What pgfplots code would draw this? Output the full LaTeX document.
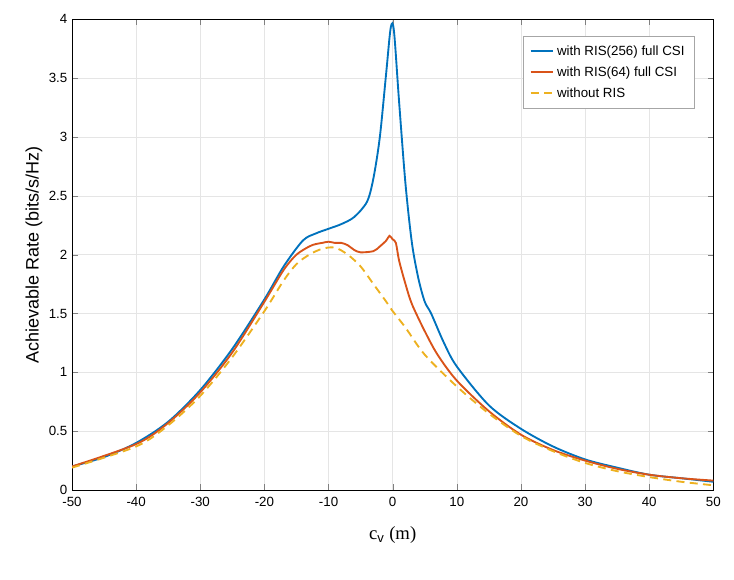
\documentclass[border=0pt]{standalone}
\usepackage{fontspec}
\setmainfont{Liberation Sans}
\newfontfamily\serif{Liberation Serif}
\usepackage{pgfplots}
\pgfplotsset{compat=1.18}
\definecolor{mb}{RGB}{0,114,189}
\definecolor{mr}{RGB}{217,83,25}
\definecolor{my}{RGB}{237,177,32}
\begin{document}
\begin{tikzpicture}
\path[use as bounding box] (-54pt,-67pt) rectangle (496.5pt,367.5pt);
\begin{axis}[scale only axis, width=481pt, height=353pt,
 xmin=-50, xmax=50, ymin=0, ymax=4,
 xtick={-50,-40,...,50}, ytick={0,0.5,...,4},
 grid=major, grid style={gray!20},
 tick align=inside, axis line style={black},
 ticklabel style={font=\fontsize{10}{12}\selectfont},
 xticklabel style={yshift=-2pt},
 /pgf/number format/assume math mode=true,
 yticklabel style={/pgf/number format/fixed},
 xlabel={\serif\fontsize{14}{16}\selectfont c$_\mathrm{v}$ (m)},
 ylabel={\fontsize{13.5}{16}\selectfont Achievable Rate (bits/s/Hz)},
 xlabel style={yshift=-8pt}, ylabel style={yshift=-2pt},
 legend style={at={(0.97,0.965)}, anchor=north east, font=\fontsize{10}{12}\selectfont, draw=gray!70, inner sep=5pt, row sep=3pt},
 legend cell align=left,
 every axis plot/.append style={line width=1.4pt}]
\addplot[mb, smooth, tension=0.5] coordinates {(-50,0.2)(-45,0.28)(-40,0.4)(-35,0.58)(-30,0.85)(-25,1.2)(-20,1.62)(-17,1.9)(-14,2.12)(-12,2.18)(-10,2.22)(-8,2.26)(-6,2.32)(-4,2.45)(-3,2.65)(-2,3.0)(-1,3.55)(-0.3,3.93)(0.2,3.9)(1,3.3)(2,2.6)(3,2.1)(4,1.8)(5,1.6)(6,1.5)(8,1.25)(10,1.05)(15,0.72)(20,0.52)(25,0.37)(30,0.26)(35,0.19)(40,0.13)(45,0.1)(50,0.07)};
\addlegendentry{with RIS(256) full CSI}
\addplot[mr, smooth, tension=0.5] coordinates {(-50,0.2)(-40,0.39)(-35,0.57)(-30,0.83)(-25,1.17)(-20,1.6)(-17,1.87)(-15,2.0)(-13,2.07)(-12,2.09)(-11,2.1)(-10,2.11)(-9,2.1)(-8,2.1)(-7,2.08)(-6,2.04)(-5,2.02)(-3,2.03)(-2,2.07)(-1,2.12)(-0.5,2.16)(0,2.13)(0.5,2.1)(1,1.95)(2,1.75)(3,1.58)(5,1.35)(7,1.15)(10,0.93)(15,0.67)(20,0.47)(25,0.34)(30,0.25)(35,0.18)(40,0.13)(45,0.1)(50,0.08)};
\addlegendentry{with RIS(64) full CSI}
\addplot[my, smooth, dash pattern=on 6pt off 4pt] coordinates {(-50,0.19)(-40,0.37)(-35,0.55)(-30,0.8)(-25,1.13)(-20,1.52)(-17,1.78)(-15,1.92)(-13,2.0)(-11,2.05)(-9,2.06)(-7,2.0)(-5,1.9)(-3,1.75)(-1,1.6)(0,1.52)(2,1.38)(5,1.15)(10,0.88)(15,0.65)(20,0.46)(25,0.33)(30,0.23)(35,0.16)(40,0.11)(45,0.07)(50,0.04)};
\addlegendentry{without RIS}
\end{axis}
\end{tikzpicture}
\end{document}
